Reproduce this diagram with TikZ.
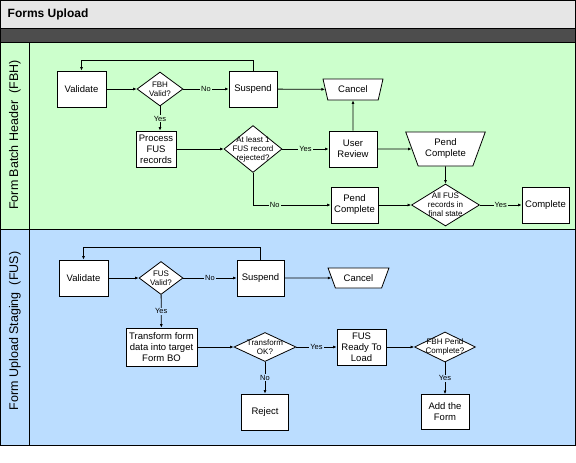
\documentclass[tikz,border=0pt]{standalone}
\usepackage{fontspec}
\setmainfont{Liberation Sans}
\usepackage{xcolor}
\definecolor{titlebar}{HTML}{E6E6E6}
\definecolor{darkbar}{HTML}{4D4D4D}
\definecolor{fbhlane}{HTML}{CCFFCC}
\definecolor{fuslane}{HTML}{BBDDFF}
\usepackage{tikz}
\usetikzlibrary{arrows.meta, shapes.geometric, positioning, calc}

\begin{document}
\begin{tikzpicture}[x=1pt, y=-1pt, >={Latex[length=3.5pt, width=3pt]},
  line width=0.8pt,
  box/.style={draw, fill=white, align=center, inner sep=1pt,
        minimum width=#1, minimum height=36,
        font=\fontsize{9.5}{11}\selectfont},
  box/.default=48,
  decision/.style={draw, fill=white, diamond, inner sep=0pt},
  dtext/.style={align=center, inner sep=0pt,
        font=\fontsize{8}{9}\selectfont},
  terminal/.style={draw, fill=white, trapezium, shape border rotate=180,
        trapezium stretches=true, inner sep=0pt, align=center,
        font=\fontsize{9.5}{11}\selectfont},
  elabel/.style={fill=#1, inner sep=1pt, font=\fontsize{7.5}{8}\selectfont},
  lanetext/.style={rotate=90, font=\fontsize{12.5}{14}\selectfont}]
  \useasboundingbox (0,0) rectangle (576,463);

  % swimlane frame
  \fill[titlebar] (0.5,0.5) rectangle (575.5,28);
  \fill[darkbar] (0.5,28) rectangle (575.5,42);
  \fill[fbhlane] (0.5,42) rectangle (575.5,229);
  \fill[fuslane] (0.5,229) rectangle (575.5,445.5);
  \draw (0.5,28) -- (575.5,28);
  \draw (0.5,42) -- (575.5,42);
  \draw (0.5,229) -- (575.5,229);
  \draw (29,42) -- (29,445.5);
  \draw (0.5,0.5) rectangle (575.5,445.5);

  \node[anchor=west, font=\bfseries\fontsize{12}{14}\selectfont] (title)
        at (4,14) {Forms Upload};
  \node[lanetext] (fbhlabel) at (15,135) {Form Batch Header~ (FBH)};
  \node[lanetext] (fuslabel) at (15,331) {Form Upload Staging~ (FUS)};

  % FBH lane
  \node[box=49] (bval) at (81.5,89) {Validate};
  \node[decision, minimum width=46, minimum height=34,
        label={[dtext]center:FBH\\Valid?}] (bvalid) at (160,89) {};
  \node[box] (bsusp) at (253,89) {Suspend};
  \node[terminal, minimum width=60, minimum height=21,
        trapezium angle=68] (bcancel) at (353,89.5) {Cancel};
  \node[box=40] (bproc) at (156,149) {Process\\FUS\\records};
  \node[decision, minimum width=58, minimum height=47,
        label={[dtext]center:At least 1\\FUS record\\rejected?}] (brej)
        at (253,149) {};
  \node[box] (breview) at (353,149) {User\\Review};
  \node[terminal, minimum width=80, minimum height=34,
        trapezium angle=65] (bpendt) at (445.5,149) {Pend\\Complete};
  \node[box=47] (bpend) at (354.5,205) {Pend\\Complete};
  \node[decision, minimum width=68, minimum height=42,
        label={[dtext]center:All FUS\\records in\\final state}] (bfinal)
        at (445.5,205) {};
  \node[box=47] (bdone) at (545.5,205) {Complete};

  \draw[->] (bval) -- (bvalid);
  \draw[->] (bvalid) -- node[elabel=fbhlane] {No} (bsusp);
  \draw[->] (bsusp) -- (bcancel);
  \draw[->] (bsusp.north) -- ++(0,-10) -| (bval.north);
  \draw[->] (bvalid.south) -- node[elabel=fbhlane] {Yes}
        (bvalid.south |- bproc.north);
  \draw[->] (bproc) -- (brej);
  \draw[->] (brej) -- node[elabel=fbhlane] {Yes} (breview);
  \draw[->] (breview) -- (bcancel);
  \draw[->] (breview) -- (bpendt);
  \draw[->] (brej.south) |- node[elabel=fbhlane, pos=0.64] {No} (bpend.west);
  \draw[->] (bpendt) -- (bfinal);
  \draw[->] (bpend) -- (bfinal);
  \draw[->] (bfinal) -- node[elabel=fbhlane] {Yes} (bdone);

  % FUS lane
  \node[box=49] (uval) at (83.5,278) {Validate};
  \node[decision, minimum width=44, minimum height=33,
        label={[dtext]center:FUS\\Valid?}] (uvalid) at (161,278) {};
  \node[box=47] (ususp) at (260.5,278) {Suspend};
  \node[terminal, minimum width=61, minimum height=20,
        trapezium angle=56] (ucancel) at (358.5,278) {Cancel};
  \node[box=71, minimum height=38] (utrans) at (161.5,347)
        {Transform form\\data into target\\Form BO};
  \node[decision, minimum width=62, minimum height=29,
        label={[dtext]center:Transform\\OK?}] (uok) at (265,347) {};
  \node[box=49] (uready) at (361.5,347) {FUS\\Ready To\\Load};
  \node[decision, minimum width=61, minimum height=30,
        label={[dtext]center:FBH Pend\\Complete?}] (upend) at (445,347) {};
  \node[box=47] (ureject) at (265,412) {Reject};
  \node[box, minimum height=35] (uadd) at (445,412) {Add the\\Form};

  \draw[->] (uval) -- (uvalid);
  \draw[->] (uvalid) -- node[elabel=fuslane] {No} (ususp);
  \draw[->] (ususp) -- (ucancel);
  \draw[->] (ususp.north) -- ++(0,-12) -| (uval.north);
  \draw[->] (uvalid) -- node[elabel=fuslane] {Yes} (utrans);
  \draw[->] (utrans) -- (uok);
  \draw[->] (uok) -- node[elabel=fuslane] {Yes} (uready);
  \draw[->] (uready) -- (upend);
  \draw[->] (uok) -- node[elabel=fuslane] {No} (ureject);
  \draw[->] (upend) -- node[elabel=fuslane] {Yes} (uadd);
\end{tikzpicture}
\end{document}
